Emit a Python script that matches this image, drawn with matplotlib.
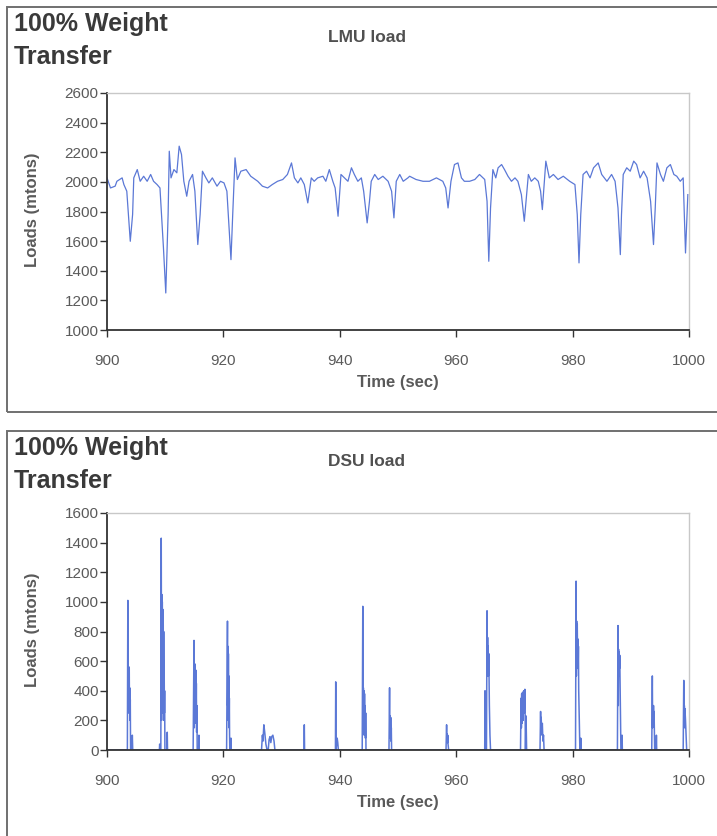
import matplotlib
matplotlib.use("Agg")
import matplotlib.pyplot as plt
from matplotlib.patches import Rectangle

#
# Data (time in sec, load in mtons)
#
lmu_t = [900.0, 900.6, 901.4, 901.7, 902.6, 902.9, 903.4, 904.0, 904.4, 904.6,
         905.2, 905.7, 906.3, 906.9, 907.5, 908.0, 908.6, 909.1, 909.7, 910.1,
         910.5, 910.7, 911.0, 911.5, 912.0, 912.4, 912.8, 913.2, 913.7, 914.1,
         914.7, 915.1, 915.6, 916.0, 916.4, 917.0, 917.5, 918.1, 918.9, 919.5,
         920.1, 920.6, 921.3, 921.6, 922.0, 922.4, 923.0, 923.9, 924.7, 925.9,
         926.7, 927.6, 928.4, 929.3, 930.2, 931.0, 931.7, 932.2, 932.8, 933.3,
         933.9, 934.5, 935.1, 935.6, 936.2, 937.1, 937.6, 938.2, 938.8, 939.2,
         939.7, 940.2, 940.8, 941.4, 942.0, 942.5, 943.1, 943.7, 944.1, 944.7,
         945.1, 945.4, 946.0, 946.6, 947.4, 948.3, 948.9, 949.3, 949.7, 950.3,
         950.9, 951.7, 952.0, 953.1, 954.3, 955.4, 956.6, 957.7, 958.2, 958.6,
         959.1, 959.7, 960.3, 960.9, 961.4, 962.3, 963.2, 964.0, 964.9, 965.3,
         965.6, 965.9, 966.3, 966.8, 967.2, 967.8, 968.3, 968.9, 969.5, 970.1,
         970.6, 971.2, 971.7, 972.1, 972.4, 972.9, 973.5, 974.1, 974.5, 974.8,
         975.4, 976.0, 976.7, 977.5, 978.4, 979.5, 980.4, 980.8, 981.1, 981.4,
         981.8, 982.4, 983.0, 983.6, 984.4, 985.0, 985.9, 986.7, 987.3, 987.8,
         988.2, 988.4, 988.7, 989.3, 989.9, 990.5, 991.0, 991.6, 992.2, 992.8,
         993.4, 993.9, 994.2, 994.5, 995.1, 995.6, 996.2, 996.8, 997.4, 997.9,
         998.5, 999.0, 999.4, 999.8]
lmu_load = [2027, 1959, 1971, 2004, 2027, 1982, 1937, 1599, 1780, 2027,
            2083, 2004, 2038, 2004, 2050, 2004, 1982, 1959, 1554, 1250,
            1779, 2207, 2027, 2083, 2061, 2241, 2185, 2004, 1903, 2004,
            2050, 1937, 1577, 1779, 2072, 2027, 1993, 2027, 1971, 2004,
            1993, 1937, 1475, 1779, 2162, 2016, 2072, 2083, 2038, 2004,
            1971, 1959, 1982, 2004, 2016, 2050, 2128, 2027, 1993, 2027,
            1982, 1858, 2027, 2004, 2027, 2038, 2004, 2083, 2004, 1959,
            1768, 2050, 2027, 2004, 2095, 2050, 2004, 2027, 1937, 1723,
            1869, 2004, 2050, 2016, 2038, 2004, 1937, 1757, 2004, 2050,
            2004, 2027, 2038, 2016, 2004, 2004, 2027, 2004, 1959, 1824,
            2004, 2117, 2128, 2027, 2004, 2004, 2016, 2050, 2016, 1869,
            1464, 1824, 2083, 2027, 2095, 2117, 2083, 2038, 2004, 2027,
            2004, 1914, 1734, 1914, 2050, 2004, 2027, 2004, 1937, 1813,
            2140, 2027, 2050, 2016, 2038, 2004, 1982, 1779, 1453, 1779,
            2050, 2072, 2027, 2095, 2128, 2050, 2004, 2050, 2004, 1824,
            1509, 1779, 2050, 2095, 2072, 2140, 2117, 2027, 2072, 2027,
            1869, 1577, 1824, 2128, 2050, 2004, 2095, 2117, 2050, 2038,
            2004, 2027, 1520, 1914]

dsu_t = [900.00,
         903.50, 903.58, 903.62, 903.66, 903.70, 903.74, 903.78, 903.82, 903.86, 903.90,
         903.95, 904.00, 904.05, 904.30, 904.35, 904.42,
         909.00, 909.05, 909.15, 909.25, 909.32, 909.38, 909.42, 909.46, 909.50, 909.54,
         909.58, 909.62, 909.66, 909.70, 909.74, 909.78, 909.82, 909.86, 909.90, 909.95,
         910.30, 910.35, 910.40,
         914.80, 914.95, 915.00, 915.05, 915.10, 915.15, 915.20, 915.25, 915.30, 915.35,
         915.40, 915.45, 915.50, 915.75, 915.80, 915.85,
         920.55, 920.70, 920.74, 920.78, 920.82, 920.86, 920.90, 920.94, 920.98, 921.02,
         921.06, 921.10, 921.25, 921.30, 921.35,
         926.55, 926.70, 926.80, 926.95, 927.10, 927.30, 927.50, 927.70, 927.85, 928.00,
         928.15, 928.30, 928.50, 928.70, 928.85,
         933.85, 933.90, 933.95,
         939.25, 939.30, 939.35, 939.45, 939.55, 939.65, 939.75,
         943.85, 943.95, 944.00, 944.05, 944.10, 944.15, 944.20, 944.25, 944.30, 944.35,
         944.40, 944.45, 944.50,
         948.45, 948.55, 948.60, 948.65, 948.70, 948.75, 948.80, 948.85, 948.90,
         958.25, 958.35, 958.40, 958.45, 958.50, 958.55, 958.60, 958.70,
         964.90, 964.95, 965.00, 965.20, 965.30, 965.35, 965.40, 965.45, 965.50, 965.55,
         965.60, 965.65, 965.70, 965.80, 965.90,
         971.05, 971.15, 971.20, 971.25, 971.30, 971.40, 971.50, 971.60, 971.70, 971.80,
         971.90, 972.00, 972.10,
         974.40, 974.50, 974.55, 974.60, 974.70, 974.80, 974.90, 975.00, 975.10,
         980.50, 980.60, 980.65, 980.70, 980.75, 980.80, 980.85, 980.90, 980.95, 981.00,
         981.05, 981.15, 981.25, 981.35, 981.40, 981.45,
         987.70, 987.80, 987.85, 987.90, 987.95, 988.00, 988.05, 988.10, 988.20, 988.30,
         988.45, 988.50, 988.55,
         993.60, 993.70, 993.75, 993.80, 993.85, 993.90, 993.95, 994.00, 994.10, 994.35,
         994.40, 994.45,
         999.00, 999.10, 999.15, 999.20, 999.25, 999.30, 999.40, 999.50, 999.60, 1000.0]
dsu_load = [0,
            0, 1010, 300, 520, 250, 480, 320, 560, 280, 420,
            200, 340, 0, 0, 100, 0,
            0, 40, 0, 0, 1430, 200, 1050, 300, 1000, 250,
            950, 400, 900, 300, 800, 200, 600, 250, 400, 0,
            0, 120, 0,
            0, 740, 150, 560, 200, 580, 250, 540, 180, 450,
            120, 300, 0, 0, 100, 0,
            0, 870, 300, 700, 200, 650, 250, 500, 150, 350,
            100, 0, 0, 80, 0,
            0, 100, 60, 170, 120, 40, 0, 0, 70, 90,
            50, 90, 100, 60, 0,
            0, 170, 0,
            0, 460, 0, 40, 80, 50, 0,
            0, 970, 200, 420, 150, 400, 100, 380, 120, 300,
            80, 250, 0,
            0, 420, 100, 230, 80, 220, 60, 150, 0,
            0, 170, 60, 110, 50, 100, 40, 0,
            0, 400, 0, 0, 940, 500, 760, 550, 700, 500,
            650, 450, 300, 100, 0,
            0, 350, 150, 380, 180, 390, 200, 400, 250, 410,
            0, 230, 0,
            0, 260, 100, 220, 120, 180, 60, 100, 0,
            0, 1140, 500, 870, 600, 850, 650, 750, 550, 700,
            400, 200, 0, 0, 80, 0,
            0, 840, 300, 680, 500, 660, 550, 640, 300, 0,
            0, 100, 0,
            0, 500, 150, 280, 180, 300, 200, 260, 0, 0,
            100, 0,
            0, 470, 200, 300, 150, 280, 200, 100, 0, 0]

x_ticks = [900, 920, 940, 960, 980, 1000]
lmu_yticks = list(range(1000, 2601, 200))
dsu_yticks = list(range(0, 1601, 200))

W, H = 717, 836
plt.rcParams["font.family"] = ["Liberation Sans", "DejaVu Sans"]
fig = plt.figure(figsize=(W / 100, H / 100), dpi=100)

line_color = "#5b78d6"
text_dark = "#3a3a3a"
label_gray = "#5a5a5a"


def fx(px):
    return px / W


def fy(py):
    return 1 - py / H


def make_panel(top, box_h, ax_top, title, t, load, yticks, ylim, lw):
    # border box round the panel (right side runs off the picture)
    fig.patches.append(Rectangle((fx(7), fy(top + box_h)), fx(730) - fx(7), box_h / H,
                                 transform=fig.transFigure, fill=False,
                                 edgecolor="#707070", linewidth=1.4))
    fig.text(fx(14), fy(top + 17), "100% Weight", fontsize=18, fontweight="bold",
             color=text_dark, va="center", ha="left")
    fig.text(fx(14), fy(top + 50), "Transfer", fontsize=18, fontweight="bold",
             color=text_dark, va="center", ha="left")
    fig.text(fx(367), fy(top + 30), title, fontsize=12.5, fontweight="bold",
             color="#505050", va="center", ha="center")

    ax_h = 237
    ax = fig.add_axes([fx(107), fy(ax_top + ax_h), fx(689) - fx(107), ax_h / H])
    ax.plot(t, load, color=line_color, linewidth=lw)
    ax.set_xlim(900, 1000)
    ax.set_ylim(*ylim)
    ax.set_xticks(x_ticks)
    ax.set_yticks(yticks)
    ax.tick_params(axis="both", labelsize=11, labelcolor="#5a5a5a", color="#333333",
                   length=5, width=1, direction="out")
    ax.tick_params(axis="x", pad=12)
    ax.tick_params(axis="y", pad=1)
    for side in ["top", "right"]:
        ax.spines[side].set_color("#c8c8c8")
        ax.spines[side].set_linewidth(1.0)
    for side in ["left", "bottom"]:
        ax.spines[side].set_color("#333333")
        ax.spines[side].set_linewidth(1.3)

    fig.text(fx(398), fy(ax_top + 290), "Time (sec)", fontsize=12, fontweight="bold",
             color=label_gray, va="center", ha="center")
    fig.text(fx(33), fy(ax_top + 117), "Loads (mtons)", fontsize=12, fontweight="bold",
             color=label_gray, va="center", ha="center", rotation=90)
    return ax


make_panel(7, 405, 93, "LMU load", lmu_t, lmu_load, lmu_yticks, (1000, 2600), 0.9)
make_panel(431, 440, 513, "DSU load", dsu_t, dsu_load, dsu_yticks, (0, 1600), 1.1)

fig.savefig("out.png", dpi=100)
